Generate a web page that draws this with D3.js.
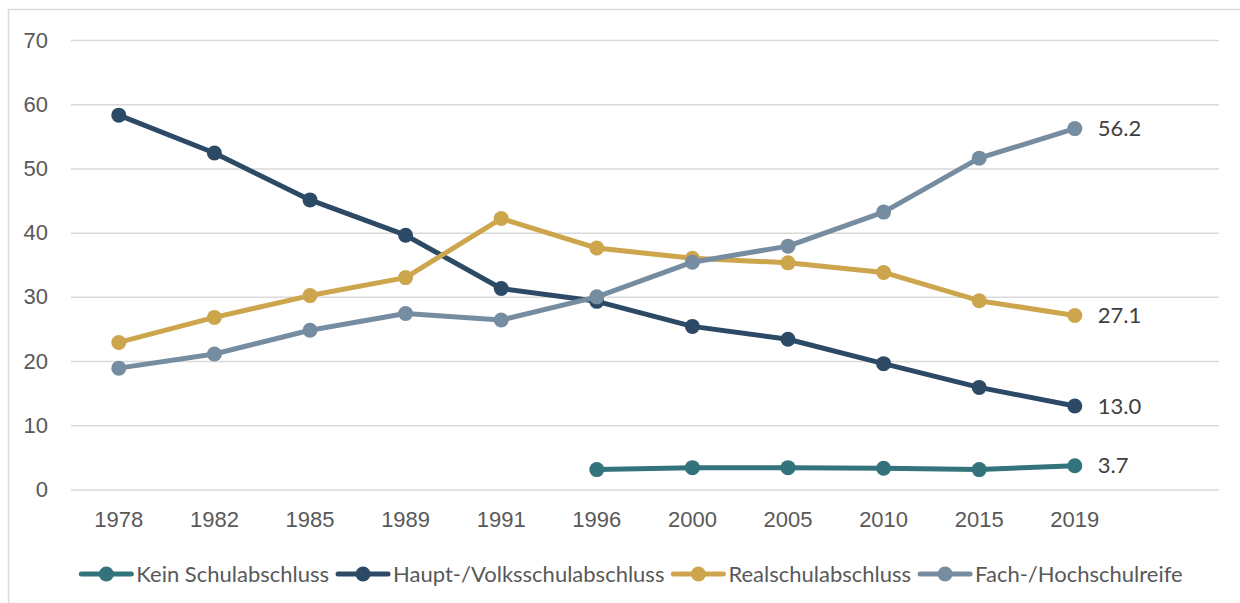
<!DOCTYPE html>
<html>
<head>
<meta charset="utf-8">
<style>
body { margin: 0; background: #fff; }
svg { display: block; font-family: Lato, "Open Sans", sans-serif; }
.tick text { fill: #595959; font-size: 22px; }
.grid line { stroke: #d9d9d9; stroke-width: 1.5; }
.endLabel { fill: #404040; font-size: 22px; }
.legend text { fill: #595959; font-size: 22px; }
</style>
</head>
<body>
<svg id="chart"></svg>
<script src="https://cdn.jsdelivr.net/npm/d3@7"></script>
<script>

var years = ["1978", "1982", "1985", "1989", "1991", "1996", "2000", "2005", "2010", "2015", "2019"];
var kein  = [null, null, null, null, null, 3.1, 3.4, 3.4, 3.3, 3.1, 3.7];
var haupt = [58.3, 52.4, 45.1, 39.6, 31.3, 29.3, 25.4, 23.4, 19.6, 15.9, 13.0];
var real  = [22.9, 26.8, 30.2, 33.0, 42.2, 37.6, 36.0, 35.3, 33.8, 29.4, 27.1];
var fach  = [18.9, 21.1, 24.8, 27.4, 26.4, 30.0, 35.4, 37.9, 43.2, 51.6, 56.2];
var seriesNames = ["Kein Schulabschluss", "Haupt-/Volksschulabschluss", "Realschulabschluss", "Fach-/Hochschulreife"];
var yTicks = [0, 10, 20, 30, 40, 50, 60, 70];

var colors = ["#33737b", "#2c4a66", "#cda54d", "#768da1"];
var values = [kein, haupt, real, fach];

var width = 1240, height = 603;
var left = 71, gridRight = 1219;

var svg = d3.select("#chart")
  .attr("width", width)
  .attr("height", height);

// frame
svg.append("path")
  .attr("d", "M8.5," + height + "V9.5H" + width)
  .attr("fill", "none")
  .attr("stroke", "#d9d9d9")
  .attr("stroke-width", 1.5);

var x = d3.scaleBand()
  .domain(years)
  .range([left, left + years.length * 95.6]);

var y = d3.scaleLinear()
  .domain([0, 70])
  .range([489.5, 40]);

var cx = d => x(d) + x.bandwidth() / 2;

// gridlines + y labels
var yAxis = svg.append("g")
  .attr("class", "grid")
  .attr("transform", "translate(" + left + ",0)")
  .call(d3.axisLeft(y).tickValues(yTicks).tickSize(-(gridRight - left)).tickPadding(23).tickFormat(d3.format("d")));
yAxis.select(".domain").remove();

// x labels
var xAxis = svg.append("g")
  .attr("transform", "translate(0,489.5)")
  .call(d3.axisBottom(x).tickSize(0).tickPadding(22));
xAxis.select(".domain").remove();

var line = d3.line()
  .defined(d => d.v != null)
  .x(d => cx(d.year))
  .y(d => y(d.v));

values.forEach(function(vals, i) {
  var pts = years.map((yr, j) => ({ year: yr, v: vals[j] }));
  var g = svg.append("g");
  g.append("path")
    .datum(pts)
    .attr("d", line)
    .attr("fill", "none")
    .attr("stroke", colors[i])
    .attr("stroke-width", 5)
    .attr("stroke-linejoin", "round");
  g.selectAll("circle")
    .data(pts.filter(d => d.v != null))
    .enter().append("circle")
    .attr("cx", d => cx(d.year))
    .attr("cy", d => y(d.v))
    .attr("r", 7.5)
    .attr("fill", colors[i]);

  var last = pts[pts.length - 1];
  svg.append("text")
    .attr("class", "endLabel")
    .attr("x", cx(last.year) + 23)
    .attr("y", y(last.v))
    .attr("dy", "0.35em")
    .text(d3.format(".1f")(last.v));
});

// legend
var legend = svg.append("g").attr("class", "legend");
var items = legend.selectAll("g")
  .data(seriesNames)
  .enter().append("g");

var symW = 50, gapText = 5, gapItem = 9;
items.append("line")
  .attr("x1", 0).attr("x2", symW)
  .attr("y1", 0).attr("y2", 0)
  .attr("stroke", (d, i) => colors[i])
  .attr("stroke-width", 5)
  .attr("stroke-linecap", "round");
items.append("circle")
  .attr("cx", symW / 2).attr("cy", 0).attr("r", 7.5)
  .attr("fill", (d, i) => colors[i]);
items.append("text")
  .attr("x", symW + gapText)
  .attr("dy", "0.35em")
  .text(d => d);

var offs = [], pos = 0;
items.each(function() {
  offs.push(pos);
  pos += symW + gapText + this.querySelector("text").getComputedTextLength() + gapItem;
});
var total = pos - gapItem;
var startX = 632 - total / 2;
items.attr("transform", (d, i) => "translate(" + (startX + offs[i]) + ",574)");

</script>
</body>
</html>
